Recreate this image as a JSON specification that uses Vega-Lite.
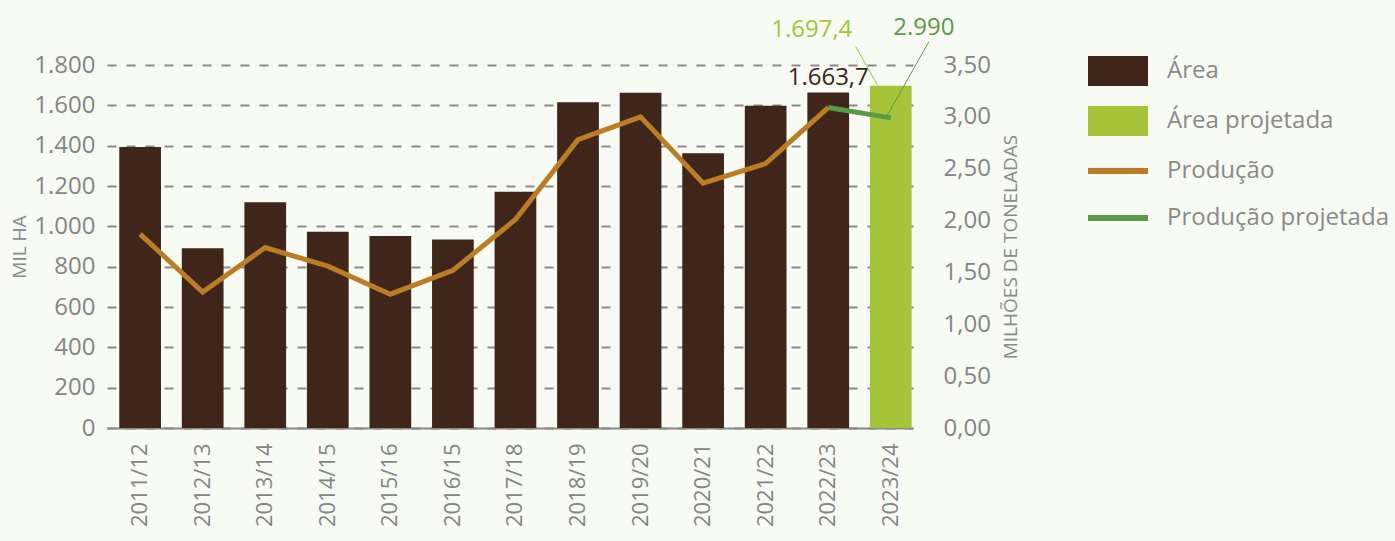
{
  "$schema": "https://vega.github.io/schema/vega-lite/v6.json",
  "width": 806,
  "height": 363,
  "autosize": {"type": "none"},
  "padding": {"left": 107, "top": 65, "right": 482, "bottom": 113},
  "background": "#f8faf4",
  "config": {
    "view": {"stroke": null},
    "font": "Open Sans",
    "locale": {"number": {"decimal": ",", "thousands": ".", "grouping": [3], "currency": ["R$", ""]}}
  },
  "datasets": {
    "area": [
      {"periodo": "2011/12", "area": 1393, "serie": "Área"},
      {"periodo": "2012/13", "area": 891, "serie": "Área"},
      {"periodo": "2013/14", "area": 1119, "serie": "Área"},
      {"periodo": "2014/15", "area": 973, "serie": "Área"},
      {"periodo": "2015/16", "area": 952, "serie": "Área"},
      {"periodo": "2016/15", "area": 935, "serie": "Área"},
      {"periodo": "2017/18", "area": 1172, "serie": "Área"},
      {"periodo": "2018/19", "area": 1615, "serie": "Área"},
      {"periodo": "2019/20", "area": 1662, "serie": "Área"},
      {"periodo": "2020/21", "area": 1362, "serie": "Área"},
      {"periodo": "2021/22", "area": 1598, "serie": "Área"},
      {"periodo": "2022/23", "area": 1663.7, "serie": "Área"},
      {"periodo": "2023/24", "area": 1697.4, "serie": "Área projetada"}
    ],
    "prod": [
      {"periodo": "2011/12", "producao": 1.87, "serie": "Produção"},
      {"periodo": "2012/13", "producao": 1.31, "serie": "Produção"},
      {"periodo": "2013/14", "producao": 1.74, "serie": "Produção"},
      {"periodo": "2014/15", "producao": 1.56, "serie": "Produção"},
      {"periodo": "2015/16", "producao": 1.29, "serie": "Produção"},
      {"periodo": "2016/15", "producao": 1.52, "serie": "Produção"},
      {"periodo": "2017/18", "producao": 2.01, "serie": "Produção"},
      {"periodo": "2018/19", "producao": 2.78, "serie": "Produção"},
      {"periodo": "2019/20", "producao": 3.0, "serie": "Produção"},
      {"periodo": "2020/21", "producao": 2.36, "serie": "Produção"},
      {"periodo": "2021/22", "producao": 2.55, "serie": "Produção"},
      {"periodo": "2022/23", "producao": 3.09, "serie": "Produção"},
      {"periodo": "2022/23", "producao": 3.09, "serie": "Produção projetada"},
      {"periodo": "2023/24", "producao": 2.99, "serie": "Produção projetada"}
    ]
  },
  "encoding": {
    "x": {
      "field": "periodo",
      "type": "nominal",
      "scale": {
        "domain": ["2011/12", "2012/13", "2013/14", "2014/15", "2015/16", "2016/15", "2017/18", "2018/19", "2019/20", "2020/21", "2021/22", "2022/23", "2023/24"],
        "paddingInner": 0.333,
        "paddingOuter": 0.109,
        "align": 0.9
      },
      "axis": {
        "title": null,
        "labelAngle": -90,
        "labelFontSize": 22,
        "labelColor": "#858585",
        "labelPadding": 15,
        "ticks": false,
        "domain": true,
        "domainColor": "#8a8a8a",
        "domainWidth": 2
      }
    }
  },
  "layer": [
    {
      "layer": [
        {
          "data": {"name": "area"},
          "mark": {"type": "bar"},
          "encoding": {
            "y": {
              "field": "area",
              "type": "quantitative",
              "scale": {"domain": [0, 1800], "nice": false},
              "axis": {
                "title": "MIL HA",
                "titleFontSize": 19,
                "titleFontWeight": "normal",
                "titleColor": "#8a8a8a",
                "titlePadding": 4,
                "labelFontSize": 24,
                "labelColor": "#858585",
                "format": ",.0f",
                "values": [0, 200, 400, 600, 800, 1000, 1200, 1400, 1600, 1800],
                "domain": false,
                "ticks": false,
                "labelPadding": 12,
                "grid": true,
                "gridDash": [9, 10],
                "gridColor": "#8a8a8a",
                "gridWidth": 2
              }
            },
            "color": {
              "field": "serie",
              "type": "nominal",
              "scale": {
                "domain": ["Área", "Área projetada", "Produção", "Produção projetada"],
                "range": ["#40261a", "#a6c43a", "#bb7d24", "#5a9a48"]
              },
              "legend": {
                "title": null,
                "orient": "none",
                "legendX": 996,
                "legendY": -9,
                "padding": 0,
                "symbolSize": 900,
                "labelFontSize": 24,
                "labelLimit": 400,
                "labelColor": "#8a8a8a",
                "labelOffset": 34,
                "rowPadding": 20,
                "symbolStrokeWidth": 0,
                "encode": {
                  "symbols": {
                    "update": {
                      "shape": {"signal": "indexof(datum.value, 'Produção') >= 0 ? 'M-2,-0.2H2V0.2H-2Z' : 'M-2,-1H2V1H-2Z'"},
                      "fill": {"scale": "color", "field": "value"},
                      "stroke": {"value": "transparent"},
                      "opacity": {"value": 1},
                      "fillOpacity": {"value": 1}
                    }
                  }
                }
              }
            }
          }
        },
        {
          "data": {"values": [{"periodo": "2022/23", "area": 1663.7, "label": "1.663,7"}]},
          "mark": {"type": "text", "fontSize": 24, "color": "#3d2416", "dy": -7, "baseline": "alphabetic", "align": "center"},
          "encoding": {
            "y": {"field": "area", "type": "quantitative"},
            "text": {"field": "label"}
          }
        },
        {
          "data": {"values": [{"periodo": "2023/24", "area": 1697.4, "label": "1.697,4"}]},
          "mark": {"type": "text", "fontSize": 24, "color": "#a6c43a", "dx": -79, "dy": -49, "baseline": "alphabetic", "align": "center"},
          "encoding": {
            "y": {"field": "area", "type": "quantitative"},
            "text": {"field": "label"}
          }
        },
        {
          "data": {"values": [{"periodo": "2023/24", "area": 1697.4}]},
          "mark": {"type": "rule", "color": "#a6c43a", "strokeWidth": 1, "xOffset": -13, "x2Offset": -35, "y2Offset": -39},
          "encoding": {
            "x2": {"field": "periodo"},
            "y": {"field": "area", "type": "quantitative"},
            "y2": {"field": "area"}
          }
        }
      ]
    },
    {
      "layer": [
        {
          "data": {"name": "prod"},
          "mark": {"type": "line", "strokeWidth": 5},
          "encoding": {
            "y": {
              "field": "producao",
              "type": "quantitative",
              "scale": {"domain": [0, 3.5], "nice": false},
              "axis": {
                "orient": "right",
                "title": "MILHÕES DE TONELADAS",
                "titleAngle": 270,
                "titleBaseline": "top",
                "titleFontSize": 19,
                "titleFontWeight": "normal",
                "titleColor": "#8a8a8a",
                "titlePadding": 11,
                "labelFontSize": 24,
                "labelColor": "#858585",
                "format": ".2f",
                "values": [0, 0.5, 1, 1.5, 2, 2.5, 3, 3.5],
                "domain": false,
                "ticks": false,
                "grid": false,
                "labelPadding": 30
              }
            },
            "color": {"field": "serie", "type": "nominal"}
          }
        },
        {
          "data": {"values": [{"periodo": "2023/24", "producao": 2.99, "label": "2.990"}]},
          "mark": {"type": "text", "fontSize": 24, "color": "#5a9a48", "dx": 33, "dy": -83, "baseline": "alphabetic", "align": "center"},
          "encoding": {
            "y": {"field": "producao", "type": "quantitative"},
            "text": {"field": "label"}
          }
        },
        {
          "data": {"values": [{"periodo": "2023/24", "producao": 2.99}]},
          "mark": {"type": "rule", "color": "#5a9a48", "strokeWidth": 1, "xOffset": -5, "x2Offset": 38, "y2Offset": -76},
          "encoding": {
            "x2": {"field": "periodo"},
            "y": {"field": "producao", "type": "quantitative"},
            "y2": {"field": "producao"}
          }
        }
      ]
    }
  ],
  "resolve": {"scale": {"y": "independent"}}
}
